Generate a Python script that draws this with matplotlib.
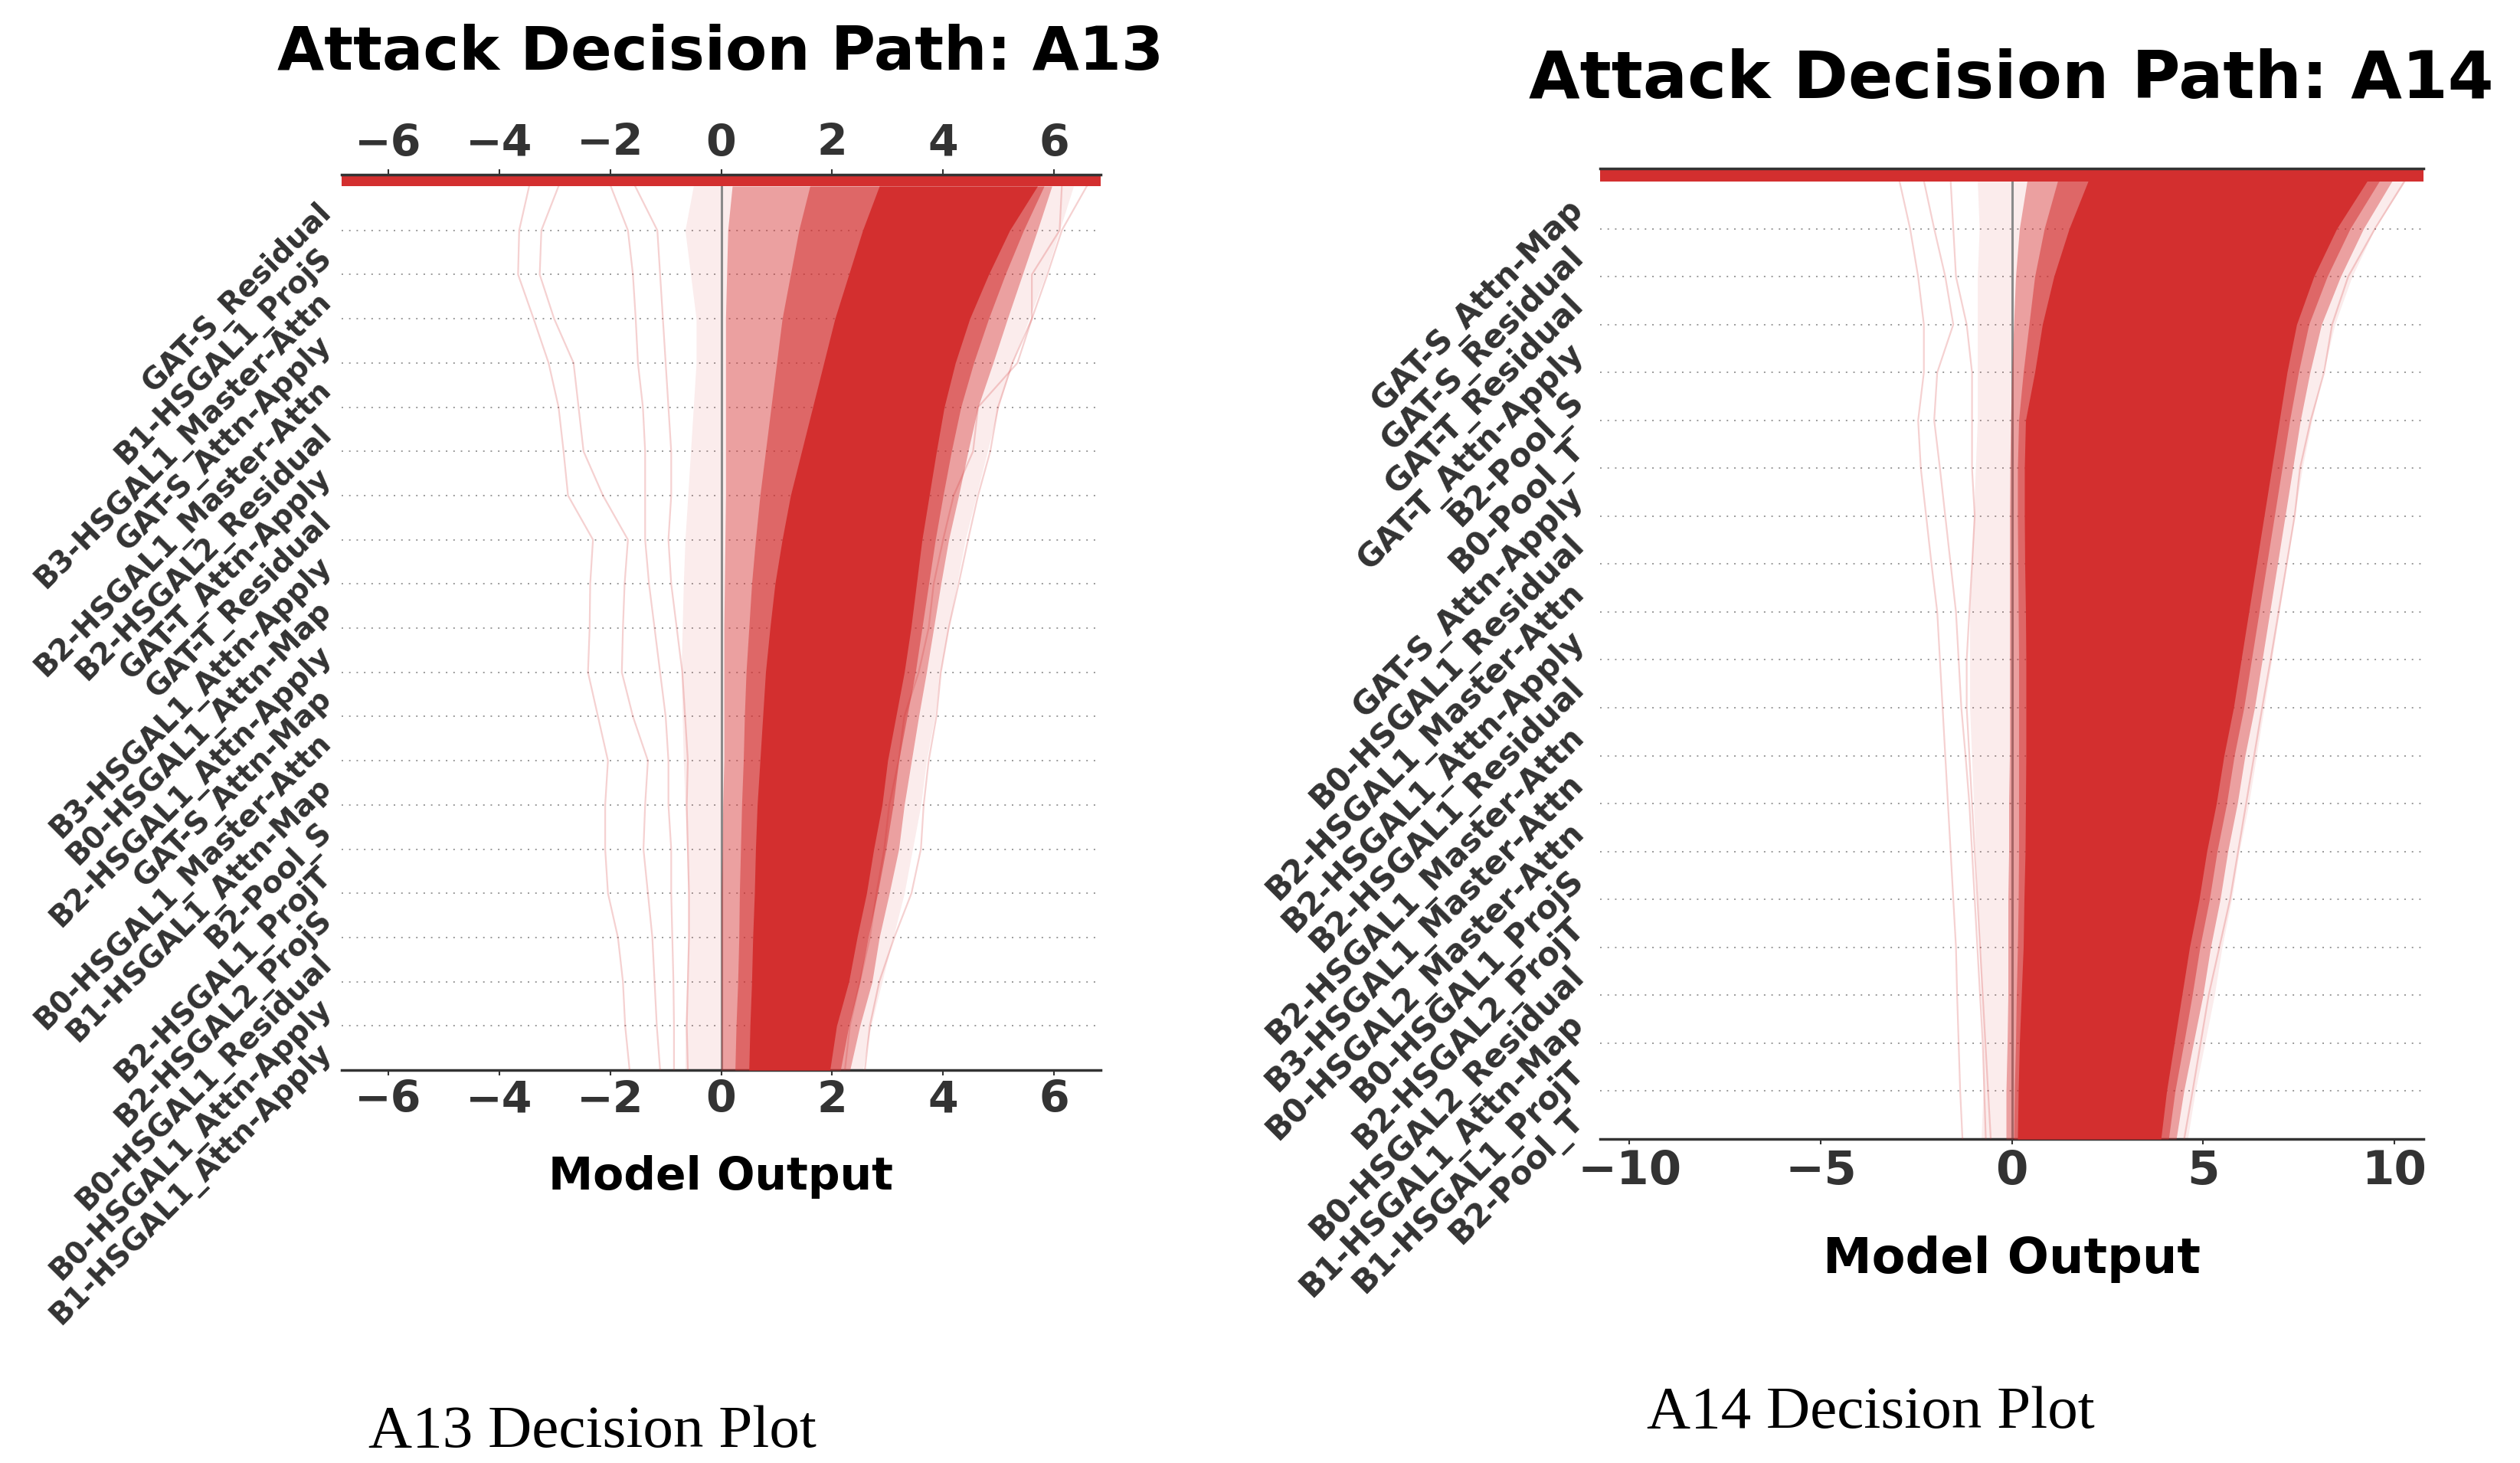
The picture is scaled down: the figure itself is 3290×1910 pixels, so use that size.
import numpy as np
import matplotlib
matplotlib.use("Agg")
import matplotlib.pyplot as plt

# ---------------- data ----------------
levels = list(range(21))  # 0 = base (bottom), 20 = final output (top)

a13_features = [
    "GAT-S_Residual", "B1-HSGAL1_ProjS", "B3-HSGAL1_Master-Attn", "GAT-S_Attn-Apply",
    "B2-HSGAL1_Master-Attn", "B2-HSGAL2_Residual", "GAT-T_Attn-Apply", "GAT-T_Residual",
    "B3-HSGAL1_Attn-Apply", "B0-HSGAL1_Attn-Map", "B2-HSGAL1_Attn-Apply", "GAT-S_Attn-Map",
    "B0-HSGAL1_Master-Attn", "B1-HSGAL1_Attn-Map", "B2-Pool_S", "B2-HSGAL1_ProjT",
    "B2-HSGAL2_ProjS", "B0-HSGAL1_Residual", "B0-HSGAL1_Attn-Apply", "B1-HSGAL1_Attn-Apply",
]
a14_features = [
    "GAT-S_Attn-Map", "GAT-S_Residual", "GAT-T_Residual", "GAT-T_Attn-Apply",
    "B2-Pool_S", "B0-Pool_T", "GAT-S_Attn-Apply", "B0-HSGAL1_Residual",
    "B2-HSGAL1_Master-Attn", "B2-HSGAL1_Attn-Apply", "B2-HSGAL1_Residual", "B2-HSGAL1_Master-Attn",
    "B3-HSGAL1_Master-Attn", "B0-HSGAL2_Master-Attn", "B0-HSGAL1_ProjS", "B2-HSGAL2_ProjT",
    "B0-HSGAL2_Residual", "B1-HSGAL1_Attn-Map", "B1-HSGAL1_ProjT", "B2-Pool_T",
]

# A13 cumulative model output bands per level (bottom -> top)
a13_core_lo = [0.50, 0.52, 0.55, 0.57, 0.60, 0.62, 0.65, 0.70, 0.75, 0.80, 0.88,
               0.97, 1.10, 1.25, 1.45, 1.65, 1.85, 2.05, 2.30, 2.55, 2.85]
a13_core_hi = [1.96, 2.08, 2.30, 2.45, 2.62, 2.75, 2.90, 3.00, 3.15, 3.30, 3.42,
               3.52, 3.62, 3.75, 3.88, 4.02, 4.22, 4.48, 4.82, 5.20, 5.70]
a13_inner_lo = [0.25, 0.27, 0.30, 0.32, 0.33, 0.35, 0.37, 0.40, 0.42, 0.45, 0.50,
                0.55, 0.62, 0.70, 0.80, 0.90, 1.00, 1.10, 1.25, 1.40, 1.60]
a13_inner_hi = [2.15, 2.30, 2.50, 2.65, 2.82, 2.97, 3.10, 3.20, 3.35, 3.50, 3.62,
                3.74, 3.86, 4.00, 4.15, 4.32, 4.55, 4.82, 5.12, 5.45, 5.82]
a13_mid_lo = [0.00, 0.00, 0.00, 0.00, 0.00, 0.02, 0.03, 0.05, 0.05, 0.05, 0.05,
              0.06, 0.07, 0.08, 0.08, 0.08, 0.08, 0.08, 0.10, 0.12, 0.20]
a13_mid_hi = [2.32, 2.50, 2.72, 2.85, 3.03, 3.20, 3.30, 3.43, 3.56, 3.70, 3.83,
              3.96, 4.10, 4.28, 4.45, 4.63, 4.90, 5.16, 5.43, 5.70, 5.96]
a13_faint_lo = [-0.65, -0.65, -0.62, -0.60, -0.60, -0.62, -0.65, -0.68, -0.70, -0.72, -0.70,
                -0.68, -0.65, -0.60, -0.55, -0.50, -0.45, -0.45, -0.55, -0.65, -0.50]
a13_faint_hi = [2.55, 2.70, 2.90, 3.10, 3.30, 3.45, 3.60, 3.70, 3.85, 3.95, 4.10,
                4.25, 4.40, 4.60, 4.80, 5.00, 5.25, 5.55, 5.85, 6.10, 6.35]
a13_paths = [
    [-1.65, -1.73, -1.77, -1.86, -2.04, -2.09, -2.09, -2.04, -2.22, -2.40, -2.37,
     -2.36, -2.31, -2.76, -2.84, -2.93, -3.11, -3.38, -3.66, -3.64, -3.46],
    [-1.10, -1.16, -1.20, -1.24, -1.32, -1.40, -1.37, -1.32, -1.59, -1.79, -1.77,
     -1.74, -1.68, -2.13, -2.48, -2.57, -2.66, -3.01, -3.27, -3.24, -2.93],
    [-0.85, -0.85, -0.86, -0.88, -0.90, -0.90, -0.95, -0.95, -1.00, -1.10, -1.20,
     -1.30, -1.37, -1.37, -1.37, -1.41, -1.50, -1.54, -1.59, -1.68, -1.99],
    [-0.60, -0.62, -0.60, -0.58, -0.58, -0.60, -0.62, -0.60, -0.65, -0.70, -0.80,
     -0.90, -0.95, -0.90, -0.90, -0.95, -1.00, -1.05, -1.10, -1.15, -1.55],
    [2.59, 2.68, 2.85, 3.12, 3.43, 3.60, 3.65, 3.74, 3.88, 3.96, 4.10,
     4.28, 4.45, 4.63, 4.85, 4.99, 5.25, 5.60, 5.88, 6.14, 6.59],
    [2.23, 2.32, 2.50, 2.68, 2.80, 2.94, 3.03, 3.20, 3.30, 3.56, 3.74,
     3.83, 4.00, 4.19, 4.54, 4.63, 5.34, 5.60, 5.60, 6.10, 6.14],
]

# A14 cumulative model output bands per level (bottom -> top)
a14_core_lo = [0.15, 0.17, 0.20, 0.25, 0.30, 0.32, 0.35, 0.36, 0.37, 0.37, 0.37,
               0.36, 0.34, 0.33, 0.33, 0.36, 0.60, 0.80, 1.10, 1.50, 2.00]
a14_core_hi = [3.90, 4.05, 4.25, 4.45, 4.65, 4.90, 5.10, 5.35, 5.55, 5.80, 6.00,
               6.20, 6.40, 6.60, 6.80, 7.00, 7.20, 7.45, 7.90, 8.50, 9.30]
a14_inner_lo = [0.05, 0.07, 0.10, 0.12, 0.15, 0.17, 0.18, 0.18, 0.18, 0.18, 0.18,
                0.17, 0.16, 0.15, 0.15, 0.18, 0.30, 0.45, 0.60, 0.85, 1.20]
a14_inner_hi = [4.10, 4.27, 4.50, 4.72, 4.92, 5.17, 5.37, 5.62, 5.82, 6.07, 6.27,
                6.47, 6.67, 6.87, 7.07, 7.27, 7.50, 7.77, 8.25, 8.85, 9.62]
a14_mid_lo = [-0.15, -0.15, -0.12, -0.10, -0.10, -0.10, -0.08, -0.08, -0.06, -0.06, -0.06,
              -0.06, -0.06, -0.06, -0.05, -0.03, 0.00, 0.05, 0.10, 0.20, 0.40]
a14_mid_hi = [4.30, 4.50, 4.75, 5.00, 5.20, 5.45, 5.65, 5.90, 6.10, 6.35, 6.55,
              6.75, 6.95, 7.15, 7.35, 7.55, 7.80, 8.10, 8.60, 9.20, 9.95]
a14_faint_lo = [-0.80, -0.75, -0.75, -0.80, -0.85, -0.90, -0.95, -1.00, -1.05, -1.10, -1.10,
                -1.10, -1.05, -1.00, -0.95, -0.90, -0.90, -0.90, -0.90, -0.85, -0.90]
a14_faint_hi = [4.60, 4.80, 5.05, 5.30, 5.50, 5.75, 5.95, 6.20, 6.40, 6.60, 6.80,
                7.00, 7.20, 7.40, 7.60, 7.85, 8.15, 8.45, 8.90, 9.50, 10.30]
a14_paths = [
    [-1.29, -1.35, -1.39, -1.43, -1.46, -1.53, -1.60, -1.67, -1.74, -1.81, -1.88,
     -1.95, -2.10, -2.24, -2.38, -2.45, -2.30, -2.30, -2.45, -2.66, -2.94],
    [-0.68, -0.72, -0.76, -0.83, -0.90, -0.97, -1.04, -1.11, -1.21, -1.32, -1.39,
     -1.46, -1.60, -1.74, -1.88, -2.03, -1.95, -1.53, -1.74, -2.03, -2.30],
    [4.51, 4.73, 4.94, 5.15, 5.43, 5.71, 5.92, 6.13, 6.34, 6.55, 6.77,
     6.98, 7.19, 7.40, 7.54, 7.82, 8.17, 8.38, 8.80, 9.50, 10.28],
    [-0.55, -0.62, -0.69, -0.76, -0.83, -0.90, -0.97, -1.04, -1.11, -1.18, -1.18,
     -1.11, -1.04, -0.97, -1.04, -1.04, -1.04, -1.18, -1.46, -1.53, -1.60],
]

a13_xticks = [-6, -4, -2, 0, 2, 4, 6]
a14_xticks = [-10, -5, 0, 5, 10]
a13_xlim = (-6.84, 6.84)
a14_xlim = (-10.77, 10.77)

# ---------------- styling ----------------
W, H = 3290, 1910
RED = "#d32f2f"
DARK = "#333333"

fig = plt.figure(figsize=(W / 100, H / 100), dpi=100)


def px_axes(x0, y0, x1, y1):
    return fig.add_axes([x0 / W, 1 - y1 / H, (x1 - x0) / W, (y1 - y0) / H])


def draw_panel(box, cbox, feats, bands, paths, xlim, xticks, ytick_fs, xtick_fs,
               top_labels, ypad):
    ax = px_axes(*box)
    ax.set_xlim(*xlim)
    ax.set_ylim(0, 20)
    for yy in range(1, 20):
        ax.axhline(yy, color="#999999", lw=1.4, dashes=(1, 4), zorder=0)
    (faint_lo, faint_hi), (mid_lo, mid_hi), (inner_lo, inner_hi), (core_lo, core_hi) = bands
    ax.fill_betweenx(levels, faint_lo, faint_hi, color=RED, alpha=0.09, lw=0, zorder=1)
    ax.axvline(0, color="#8a8a8a", lw=2.2, zorder=2)
    ax.fill_betweenx(levels, mid_lo, mid_hi, color=RED, alpha=0.4, lw=0, zorder=3)
    ax.fill_betweenx(levels, inner_lo, inner_hi, color=RED, alpha=0.5, lw=0, zorder=3)
    ax.fill_betweenx(levels, core_lo, core_hi, color=RED, alpha=1.0, lw=0, zorder=4)
    for p in paths:
        ax.plot(p, levels, color=RED, alpha=0.22, lw=1.6, zorder=5)
    for s in ("left", "right", "top"):
        ax.spines[s].set_visible(False)
    ax.spines["bottom"].set_color(DARK)
    ax.spines["bottom"].set_linewidth(2.5)
    ax.set_xticks(xticks)
    ax.set_xticklabels([str(t).replace("-", "\u2212") for t in xticks],
                       fontsize=xtick_fs, fontweight="bold", color=DARK)
    ax.tick_params(axis="x", length=5, width=1.5, color=DARK, pad=4)
    ax.set_yticks([19.5 - i for i in range(len(feats))])
    ax.set_yticklabels(feats, fontsize=ytick_fs, fontweight="bold", color=DARK,
                       rotation=45, ha="right", va="center", rotation_mode="anchor")
    ax.tick_params(axis="y", length=0, pad=ypad)

    cax = px_axes(*cbox)
    cax.set_facecolor(RED)
    cax.set_xlim(*xlim)
    cax.set_yticks([])
    for s in ("left", "right", "bottom"):
        cax.spines[s].set_visible(False)
    cax.spines["top"].set_color(DARK)
    cax.spines["top"].set_linewidth(2.5)
    if top_labels:
        cax.xaxis.tick_top()
        cax.set_xticks(xticks)
        cax.set_xticklabels([str(t).replace("-", "\u2212") for t in xticks],
                            fontsize=xtick_fs, fontweight="bold", color=DARK)
        cax.tick_params(axis="x", length=5, width=1.5, color=DARK, pad=4)
    else:
        cax.set_xticks([])
    return ax


draw_panel((446, 243, 1437, 1397), (446, 228, 1437, 243), a13_features,
           [(a13_faint_lo, a13_faint_hi), (a13_mid_lo, a13_mid_hi),
            (a13_inner_lo, a13_inner_hi), (a13_core_lo, a13_core_hi)],
           a13_paths, a13_xlim, a13_xticks, 28, 41, True, 14)
draw_panel((2089, 236, 3164, 1487), (2089, 220, 3164, 237), a14_features,
           [(a14_faint_lo, a14_faint_hi), (a14_mid_lo, a14_mid_hi),
            (a14_inner_lo, a14_inner_hi), (a14_core_lo, a14_core_hi)],
           a14_paths, a14_xlim, a14_xticks, 30, 44, False, 20)

# titles, axis labels, captions
fig.text(941 / W, 1 - 91 / H, "Attack Decision Path: A13", ha="center", va="baseline",
         fontsize=57, fontweight="bold", color="black")
fig.text(2626 / W, 1 - 128 / H, "Attack Decision Path: A14", ha="center", va="baseline",
         fontsize=62, fontweight="bold", color="black")
fig.text(941 / W, 1 - 1553 / H, "Model Output", ha="center", va="baseline",
         fontsize=42, fontweight="bold", color="black")
fig.text(2626 / W, 1 - 1662 / H, "Model Output", ha="center", va="baseline",
         fontsize=46, fontweight="bold", color="black")
fig.text(481 / W, 1 - 1889 / H, "A13 Decision Plot", ha="left", va="baseline",
         fontsize=57, family="Liberation Serif", color="black")
fig.text(2150 / W, 1 - 1864 / H, "A14 Decision Plot", ha="left", va="baseline",
         fontsize=57, family="Liberation Serif", color="black")

fig.savefig("out.png", dpi=100, facecolor="white")
